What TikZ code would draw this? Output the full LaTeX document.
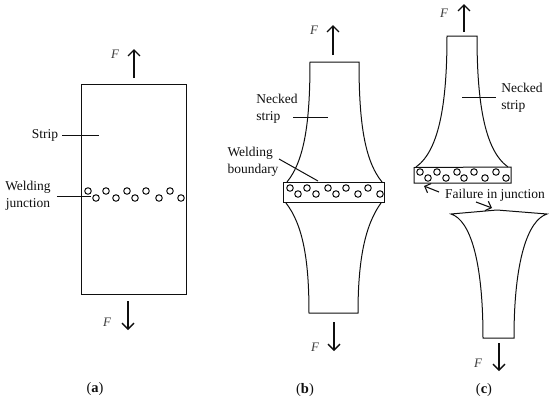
\documentclass[tikz,border=0pt]{standalone}
\usepackage{xcolor}
\definecolor{ink}{RGB}{ 15,  15,  15}
\usepackage{fontspec}
\setmainfont{Liberation Serif}
\usepackage{tikz}
\usetikzlibrary{
  arrows.meta, positioning, calc
}
\tikzset{
  outline/.style={draw=ink, line width=1pt},
  leader/.style={draw=ink, line width=1pt},
  force/.style={draw=ink, line width=1.4pt, -{Straight Barb[length=6pt, width=12pt, line width=1.4pt]}},
  pointer/.style={draw=ink, line width=1.1pt, -{Straight Barb[length=5pt, width=10pt, line width=1.1pt]}},
  label/.style={font=\fontsize{13.5}{17}\selectfont, text=ink, inner sep=1pt, align=left},
  forcelabel/.style={font=\fontsize{13}{13}\selectfont\itshape, text=ink!80, inner sep=0pt},
  caption/.style={font=\fontsize{14.5}{14.5}\selectfont, text=ink, inner sep=0pt},
  bubble/.style={draw=ink, line width=1pt, circle, inner sep=0pt, minimum size=6.5pt}
}

\begin{document}
\begin{tikzpicture}[x=1pt, y=-1pt]
    \useasboundingbox (0,0) rectangle (550,402);

    % panel a
    \draw[outline] (81,84) rectangle (186,294);
    \coordinate (atop) at (134,78);
    \coordinate (atip) at (134,49);
    \coordinate (abot) at (128,301);
    \coordinate (aend) at (128,330);
    \draw[force] (atop) -- (atip);
    \draw[force] (abot) -- (aend);
    \node[forcelabel] (aFup) at (115,54) {F};
    \node[forcelabel] (aFdown) at (107,322) {F};
    \node[label] (stripa) at (45,135) {Strip};
    \coordinate (stripaend) at (99,135);
    \draw[leader] ([xshift=3pt]stripa.east) -- (stripaend);
    \node[label, align=center] (weldinga) at (28,196) {Welding\\junction};
    \coordinate (weldingaend) at (91,196);
    \draw[leader] ([xshift=5pt]weldinga.east) -- (weldingaend);
    \foreach \bx/\by in {88/191, 96/198, 106/191, 116/198, 127/191, 135/198, 146/191, 159/198, 170/191, 181/198}
      \node[bubble] at (\bx,\by) {};
    \node[caption] (capa) at (95,389) {(\textbf{a})};

    % panel b
    \draw[outline] (287,182) .. controls (305,160) and (310,120) .. (310,62)
      -- (359,62) .. controls (359,120) and (364,160) .. (382,182);
    \draw[outline] (286,203) .. controls (303,225) and (309,260) .. (309,313)
      -- (358,313) .. controls (358,260) and (365,225) .. (381,203);
    \draw[outline] (283,182) rectangle (384,202);
    \coordinate (btop) at (333,55);
    \coordinate (btip) at (333,25);
    \coordinate (bbot) at (334,322);
    \coordinate (bend) at (334,351);
    \draw[force] (btop) -- (btip);
    \draw[force] (bbot) -- (bend);
    \node[forcelabel] (bFup) at (314,30) {F};
    \node[forcelabel] (bFdown) at (315,347) {F};
    \node[label] (neckedb) at (277,109) {Necked\\strip};
    \coordinate (neckedbstart) at (293,117);
    \coordinate (neckedbend) at (328,117);
    \draw[leader] (neckedbstart) -- (neckedbend);
    \node[label] (weldingb) at (253,162) {Welding\\boundary};
    \coordinate (weldingbstart) at (279,159);
    \coordinate (weldingbend) at (318,181);
    \draw[leader] (weldingbstart) -- (weldingbend);
    \foreach \bx/\by in {290/188, 298/194, 307/188, 316/194, 328/188, 336/194, 346/188, 358/194, 368/188, 380/194}
      \node[bubble] at (\bx,\by) {};
    \node[caption] (capb) at (305,390) {(\textbf{b})};

    % panel c
    \draw[outline] (416,167) .. controls (440,150) and (447,100) .. (447,36)
      -- (477,36) .. controls (477,100) and (484,150) .. (508,167);
    \draw[outline] (414,167.5) -- (511,167) -- (511,183) -- (414,183) -- cycle;
    \draw[outline] (451,214) .. controls (470,220) and (483,260) .. (483,338)
      -- (514,338) .. controls (514,260) and (528,220) .. (547,214)
      -- (497,210) -- cycle;
    \coordinate (ctop) at (464,32);
    \coordinate (ctip) at (464,4);
    \coordinate (cbot) at (499,343);
    \coordinate (cend) at (499,371);
    \draw[force] (ctop) -- (ctip);
    \draw[force] (cbot) -- (cend);
    \node[forcelabel] (cFup) at (444,13) {F};
    \node[forcelabel] (cFdown) at (478,363) {F};
    \node[label] (neckedc) at (522,98) {Necked\\strip};
    \coordinate (neckedcstart) at (462,97);
    \coordinate (neckedcend) at (496,97);
    \draw[leader] (neckedcstart) -- (neckedcend);
    \node[label] (failure) at (495,195) {Failure in junction};
    \coordinate (failureleft) at (439,192);
    \coordinate (failureright) at (476,202);
    \coordinate (bandmark) at (424,186);
    \coordinate (peakmark) at (492,208);
    \draw[pointer] (failureleft) -- (bandmark);
    \draw[pointer] (failureright) -- (peakmark);
    \foreach \bx/\by in {420/172, 428/178, 437/172, 446/178, 457/172, 464/178, 474/172, 485/178, 496/172, 506/178}
      \node[bubble] at (\bx,\by) {};
    \node[caption] (capc) at (484,390) {(\textbf{c})};
\end{tikzpicture}
\end{document}
